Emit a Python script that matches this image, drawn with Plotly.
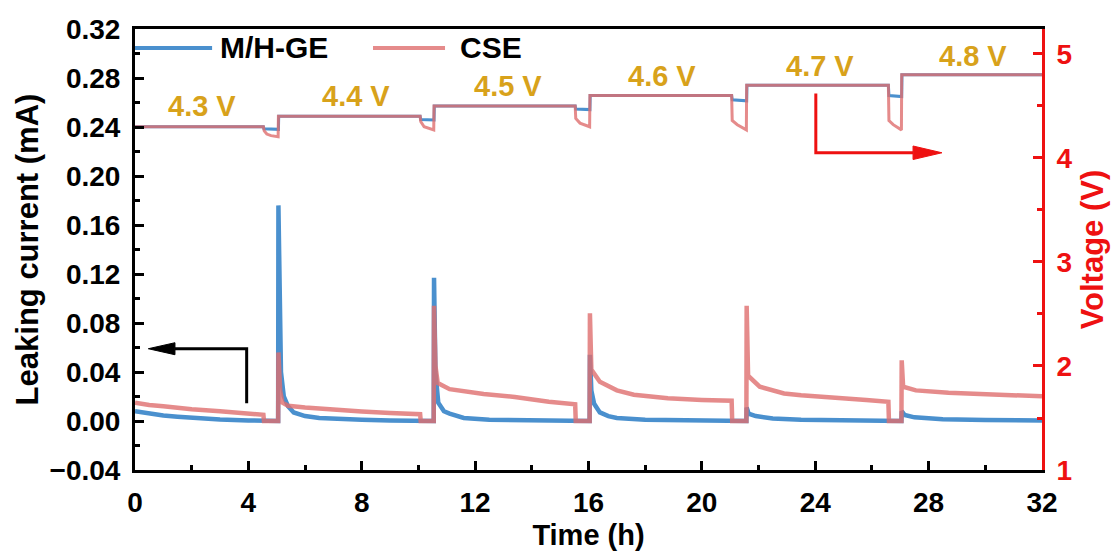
import plotly.graph_objects as go

# ---------------- data ----------------
# Leaking current, M/H-GE (mA)
t_cur_mh = [0, 0.5, 1, 1.5, 2, 3, 4, 4.53,
            4.55, 5.05,
            5.06, 5.1, 5.15, 5.25, 5.4, 5.6, 6, 6.5, 7, 8, 9, 10.06,
            10.08, 10.54,
            10.55, 10.6, 10.7, 10.9, 11.1, 11.6, 12.5, 14, 15.53,
            15.55, 16.04,
            16.05, 16.1, 16.2, 16.4, 16.7, 17, 18, 19.5, 21.05,
            21.07, 21.57,
            21.58, 21.65, 21.9, 22.5, 23.5, 25, 26.58,
            26.6, 27.04,
            27.05, 27.15, 27.5, 28.5, 30, 32]
i_cur_mh = [0.008, 0.006, 0.0045, 0.0035, 0.0025, 0.0012, 0.0005, 0.0003,
            0.0, 0.0,
            0.176, 0.08, 0.04, 0.02, 0.012, 0.007, 0.004, 0.0025, 0.0018, 0.001, 0.0005, 0.0003,
            0.0, 0.0,
            0.117, 0.04, 0.015, 0.008, 0.006, 0.0025, 0.001, 0.0004, 0.0002,
            0.0, 0.0,
            0.054, 0.025, 0.014, 0.007, 0.004, 0.0025, 0.001, 0.0004, 0.0002,
            0.0, 0.0,
            0.011, 0.006, 0.004, 0.002, 0.001, 0.0005, 0.0003,
            0.0, 0.0,
            0.008, 0.005, 0.003, 0.0015, 0.0008, 0.0005]

# Leaking current, CSE (mA)
t_cur_cse = [0, 0.5, 1, 2, 3, 4, 4.53,
             4.55, 5.05,
             5.06, 5.12, 5.2, 5.4, 6, 7, 8, 9, 10.06,
             10.08, 10.54,
             10.55, 10.6, 10.68, 11.1, 12.3, 13.4, 14.6, 15.53,
             15.55, 16.04,
             16.05, 16.1, 16.4, 17, 17.6, 18.8, 20, 21.05,
             21.07, 21.57,
             21.58, 21.63, 22.04, 22.9, 23.5, 24.6, 25.8, 26.58,
             26.6, 27.04,
             27.05, 27.1, 27.55, 28.7, 29.9, 31.1, 32]
i_cur_cse = [0.015, 0.013, 0.012, 0.0095, 0.008, 0.006, 0.005,
             0.0, 0.0,
             0.056, 0.025, 0.015, 0.0125, 0.011, 0.009, 0.0078, 0.0066, 0.0055,
             0.0, 0.0,
             0.094, 0.045, 0.031, 0.026, 0.022, 0.0196, 0.0158, 0.0136,
             0.0, 0.0,
             0.088, 0.042, 0.032, 0.025, 0.0215, 0.0185, 0.0172, 0.0165,
             0.0, 0.0,
             0.094, 0.037, 0.028, 0.0225, 0.021, 0.0195, 0.0172, 0.0157,
             0.0, 0.0,
             0.0495, 0.028, 0.025, 0.023, 0.0218, 0.0205, 0.0202]

# Voltage, M/H-GE (V)
t_v_mh = [0, 4.53, 4.55, 5.06, 5.07, 10.06, 10.08, 10.55, 10.56, 15.53, 15.55, 16.05,
          16.06, 21.05, 21.07, 21.58, 21.59, 26.58, 26.6, 27.05, 27.06, 32]
v_mh = [4.3, 4.3, 4.28, 4.275, 4.4, 4.4, 4.37, 4.365, 4.5, 4.5, 4.47, 4.465,
        4.6, 4.6, 4.56, 4.55, 4.7, 4.7, 4.6, 4.59, 4.8, 4.8]

# Voltage, CSE (V)
t_v_cse = [0, 4.53, 4.56, 4.65, 4.8, 5.05, 5.06,
           10.06, 10.08, 10.2, 10.54, 10.55,
           15.53, 15.55, 15.7, 16.04, 16.05,
           21.05, 21.07, 21.25, 21.57, 21.58,
           26.58, 26.6, 26.75, 27.04, 27.05, 32]
v_cse = [4.3, 4.3, 4.26, 4.23, 4.215, 4.205, 4.4,
         4.4, 4.35, 4.3, 4.27, 4.5,
         4.5, 4.38, 4.335, 4.30, 4.6,
         4.6, 4.36, 4.32, 4.27, 4.7,
         4.7, 4.36, 4.32, 4.27, 4.8, 4.8]

# step labels
step_labels = ["4.3 V", "4.4 V", "4.5 V", "4.6 V", "4.7 V", "4.8 V"]
step_label_x = [2.38, 7.79, 13.16, 18.6, 24.17, 29.55]
step_label_y = [4.50, 4.60, 4.69, 4.79, 4.88, 4.98]

series_names = ["M/H-GE", "CSE"]

# ---------------- style ----------------
FONT = "Liberation Sans, Arial, sans-serif"
BLUE = "rgb(74,144,206)"
PINK = "rgba(222,110,110,0.8)"
GOLD = "#D8A21B"
RED = "#EE1111"

fig = go.Figure()
fig.add_trace(go.Scatter(x=t_cur_mh, y=i_cur_mh, mode="lines", name=series_names[0],
                         line=dict(color=BLUE, width=4.5), showlegend=False))
fig.add_trace(go.Scatter(x=t_cur_cse, y=i_cur_cse, mode="lines", name=series_names[1],
                         line=dict(color=PINK, width=4.5), showlegend=False))
fig.add_trace(go.Scatter(x=t_v_mh, y=v_mh, mode="lines", name=series_names[0] + " voltage",
                         line=dict(color=BLUE, width=3), yaxis="y2", showlegend=False))
fig.add_trace(go.Scatter(x=t_v_cse, y=v_cse, mode="lines", name=series_names[1] + " voltage",
                         line=dict(color=PINK, width=3), yaxis="y2", showlegend=False))

annotations = []
for lab, lx, ly in zip(step_labels, step_label_x, step_label_y):
    annotations.append(dict(x=lx, y=ly, xref="x", yref="y2", text=lab, showarrow=False,
                            font=dict(family=FONT, size=29, color=GOLD, weight="bold"),
                            xanchor="center", yanchor="middle"))

# custom legend (long line samples as in the reference)
LEG_Y = 0.957
leg = [(0.0, 0.085, 0.0915, series_names[0], BLUE),
       (0.2624, 0.3418, 0.356, series_names[1], PINK)]
shapes = []
for x0, x1, xt, name, col in leg:
    shapes.append(dict(type="line", xref="paper", yref="paper", x0=x0, x1=x1, y0=LEG_Y, y1=LEG_Y,
                       line=dict(color=col, width=4)))
    annotations.append(dict(x=xt, y=LEG_Y, xref="paper", yref="paper", text=name, showarrow=False,
                            xanchor="left", yanchor="middle",
                            font=dict(family=FONT, size=30, color="black", weight="bold")))

# axis indicator arrows
BLACK_ARROW = dict(xv=3.94, y0=0.0144, y1=0.059, xbase=1.41, xtip=0.47, half=0.0049)
RED_ARROW = dict(xv=24.02, y0=4.62, y1=4.05, xbase=27.45, xtip=28.47, half=0.065)
b = BLACK_ARROW
shapes.append(dict(type="path", xref="x", yref="y",
                   path=f"M {b['xv']},{b['y0']} L {b['xv']},{b['y1']} L {b['xbase']},{b['y1']}",
                   line=dict(color="black", width=3)))
shapes.append(dict(type="path", xref="x", yref="y",
                   path=f"M {b['xtip']},{b['y1']} L {b['xbase']},{b['y1'] + b['half']} L {b['xbase']},{b['y1'] - b['half']} Z",
                   fillcolor="black", line=dict(color="black", width=1)))
r = RED_ARROW
shapes.append(dict(type="path", xref="x", yref="y2",
                   path=f"M {r['xv']},{r['y0']} L {r['xv']},{r['y1']} L {r['xbase']},{r['y1']}",
                   line=dict(color=RED, width=3)))
shapes.append(dict(type="path", xref="x", yref="y2",
                   path=f"M {r['xtip']},{r['y1']} L {r['xbase']},{r['y1'] + r['half']} L {r['xbase']},{r['y1'] - r['half']} Z",
                   fillcolor=RED, line=dict(color=RED, width=1)))

tickfont = dict(family=FONT, size=28, color="black", weight="bold")
fig.update_layout(
    width=1118, height=552,
    margin=dict(l=135, r=76, t=29, b=82),
    plot_bgcolor="white", paper_bgcolor="white",
    showlegend=False,
    annotations=annotations, shapes=shapes,
    xaxis=dict(range=[0, 32], tick0=0, dtick=4, ticks="inside", ticklen=9, tickwidth=3,
               tickcolor="black", showline=True, linewidth=3, linecolor="black", mirror=True,
               showgrid=False, zeroline=False, tickfont=tickfont, ticklabelstandoff=5,
               automargin=False,
               minor=dict(ticks="inside", dtick=2, ticklen=5, tickwidth=3, tickcolor="black"),
               title=dict(text="Time (h)", standoff=9,
                          font=dict(family=FONT, size=29, color="black", weight="bold"))),
    yaxis=dict(range=[-0.04, 0.32], tick0=0, dtick=0.04, tickformat=".2f", ticks="inside",
               ticklen=9, tickwidth=3, tickcolor="black", showline=True, linewidth=3,
               linecolor="black", showgrid=False, zeroline=False, tickfont=tickfont,
               ticklabelstandoff=6, automargin=False,
               minor=dict(ticks="inside", dtick=0.02, ticklen=5, tickwidth=3, tickcolor="black"),
               title=dict(text="Leaking current (mA)", standoff=2,
                          font=dict(family=FONT, size=31, color="black", weight="bold"))),
    yaxis2=dict(range=[1, 5.24], tick0=1, dtick=1, overlaying="y", side="right",
                ticks="inside", ticklen=9, tickwidth=3, tickcolor=RED, showline=True,
                linewidth=3, linecolor=RED, showgrid=False, zeroline=False,
                tickfont=dict(family=FONT, size=28, color=RED, weight="bold"),
                ticklabelstandoff=6, automargin=False,
                minor=dict(ticks="inside", dtick=0.5, ticklen=5, tickwidth=3, tickcolor=RED),
                title=dict(text="Voltage (V)", standoff=10,
                           font=dict(family=FONT, size=31, color=RED, weight="bold"))),
)

fig.write_html("out.html")
